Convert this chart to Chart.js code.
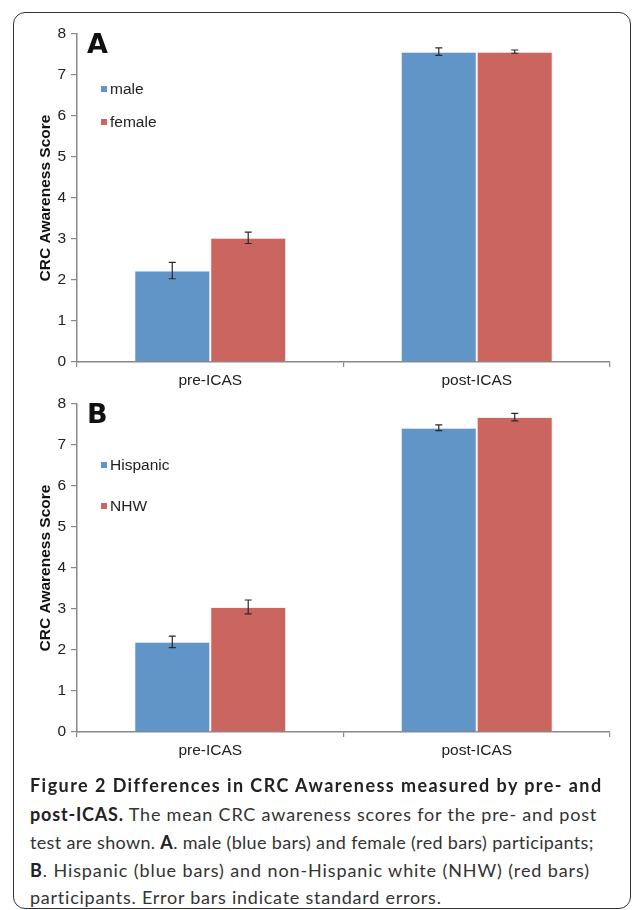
<!DOCTYPE html>
<html>
<head>
<meta charset="utf-8">
<script src="https://cdn.jsdelivr.net/npm/chart.js@4.4.1/dist/chart.umd.min.js"></script>
<style>
  html, body { margin:0; padding:0; background:#fff; width:633px; height:910px; overflow:hidden; }
  #frame { position:absolute; left:13px; top:12px; width:618px; height:897px; border:1.5px solid #333; border-radius:12px; box-sizing:border-box; }
  .cv { position:absolute; left:0; width:633px; height:392px; }
  #wrapA { top:0; }
  #wrapB { top:370px; }
  #caption { position:absolute; left:30px; top:770px; font-family:Lato, "Open Sans", sans-serif; font-size:18px; color:#333; }
  #caption .ln { position:absolute; left:0; white-space:nowrap; line-height:20px; }
  #caption b { color:#222; }
</style>
</head>
<body>
<div id="frame"></div>
<div class="cv" id="wrapA"><canvas id="chartA" width="633" height="392"></canvas></div>
<div class="cv" id="wrapB"><canvas id="chartB" width="633" height="392"></canvas></div>
<div id="caption">
  <div class="ln" data-w="572" style="top:5px"><b>Figure 2 Differences in CRC Awareness measured by pre- and</b></div>
  <div class="ln" data-w="567" style="top:34px"><b>post-ICAS.</b> The mean CRC awareness scores for the pre- and post</div>
  <div class="ln" data-w="564" style="top:62px">test are shown. <b>A</b>. male (blue bars) and female (red bars) participants;</div>
  <div class="ln" data-w="560" style="top:90px"><b>B</b>. Hispanic (blue bars) and non-Hispanic white (NHW) (red bars)</div>
  <div class="ln" data-w="412" style="top:117px">participants. Error bars indicate standard errors.</div>
</div>
<script>
// ---- data ----
const categories = ['pre-ICAS', 'post-ICAS'];
const maleScores = [2.23, 7.57];
const maleErrors = [0.20, 0.09];
const femaleScores = [3.03, 7.57];
const femaleErrors = [0.14, 0.04];
const hispanicScores = [2.20, 7.42];
const hispanicErrors = [0.14, 0.07];
const nhwScores = [3.05, 7.68];
const nhwErrors = [0.17, 0.09];
const yMin = 0, yMax = 8, yStep = 1;
const yTitle = 'CRC Awareness Score';

const BLUE = '#6195C8';
const RED = '#CB6560';
const FONT = '"Liberation Sans", Arial, sans-serif';

const errorBarPlugin = {
  id: 'errorBars',
  afterDatasetsDraw(chart, args, opts) {
    const ctx = chart.ctx, ys = chart.scales.y;
    ctx.save();
    ctx.strokeStyle = '#2a2a2a';
    ctx.lineWidth = 1.2;
    chart.data.datasets.forEach((ds, i) => {
      const meta = chart.getDatasetMeta(i);
      meta.data.forEach((bar, j) => {
        const v = ds.data[j], e = ds.errors[j];
        const x = bar.x;
        const y1 = ys.getPixelForValue(v + e), y2 = ys.getPixelForValue(v - e);
        ctx.beginPath();
        ctx.moveTo(x, y1); ctx.lineTo(x, y2);
        ctx.moveTo(x - 3.5, y1); ctx.lineTo(x + 3.5, y1);
        ctx.moveTo(x - 3.5, y2); ctx.lineTo(x + 3.5, y2);
        ctx.stroke();
      });
    });
    ctx.restore();
  }
};

const annotPlugin = {
  id: 'annot',
  afterDraw(chart, args, opts) {
    const ctx = chart.ctx, ca = chart.chartArea;
    ctx.save();
    ctx.fillStyle = '#111';
    ctx.font = 'bold 27px "DejaVu Sans", ' + FONT;
    ctx.textBaseline = 'alphabetic';
    ctx.textAlign = 'left';
    ctx.fillText(opts.letter, ca.left + 10, ca.top + 19);
    ctx.font = '15.5px ' + FONT;
    ctx.textBaseline = 'middle';
    chart.data.datasets.forEach((ds, i) => {
      const y = ca.top + opts.legendY[i];
      ctx.fillStyle = ds.backgroundColor;
      ctx.fillRect(ca.left + 24, y - 4, 6, 6);
      ctx.fillStyle = '#222';
      ctx.fillText(ds.label, ca.left + 33, y);
    });
    ctx.restore();
  }
};

function makeChart(id, labels, s1, e1, s2, e2, letter, legendY) {
  return new Chart(document.getElementById(id), {
    type: 'bar',
    data: {
      labels: categories,
      datasets: [
        { label: labels[0], data: s1, errors: e1, backgroundColor: BLUE, borderColor: 'rgba(235,240,250,0.9)', borderWidth: 1, borderSkipped: 'bottom' },
        { label: labels[1], data: s2, errors: e2, backgroundColor: RED, borderColor: 'rgba(250,235,235,0.9)', borderWidth: 1, borderSkipped: 'bottom' }
      ]
    },
    options: {
      responsive: false,
      animation: false,
      devicePixelRatio: 1,
      layout: { padding: { left: 36, right: 23, top: 34, bottom: 0 } },
      datasets: { bar: { categoryPercentage: 0.57, barPercentage: 1.0 } },
      plugins: {
        legend: { display: false },
        tooltip: { enabled: false },
        annot: { letter: letter, legendY: legendY }
      },
      scales: {
        x: {
          offset: true,
          grid: { display: true, offset: true, drawOnChartArea: false, drawTicks: true, tickLength: 5, color: '#888', lineWidth: 1.2 },
          border: { display: true, color: '#888', width: 1.5 },
          ticks: { color: '#222', font: { family: FONT, size: 15.5 }, padding: 4 },
          afterFit(s) { s.height = 30; }
        },
        y: {
          min: yMin, max: yMax,
          grid: { display: true, drawOnChartArea: false, drawTicks: true, tickLength: 6, color: '#888', lineWidth: 1.2 },
          border: { display: true, color: '#888', width: 1.5 },
          ticks: { stepSize: yStep, color: '#222', font: { family: FONT, size: 15.5 }, padding: 5 },
          title: { display: true, text: yTitle, color: '#111', font: { family: FONT, size: 15.5, weight: 'bold' }, padding: { top: 0, bottom: 4 } },
          afterFit(s) { s.width = 41; }
        }
      }
    },
    plugins: [errorBarPlugin, annotPlugin]
  });
}

makeChart('chartA', ['male', 'female'], maleScores, maleErrors, femaleScores, femaleErrors, 'A', [56, 89]);
makeChart('chartB', ['Hispanic', 'NHW'], hispanicScores, hispanicErrors, nhwScores, nhwErrors, 'B', [62, 103]);

// fit caption lines to their widths
document.querySelectorAll('#caption .ln').forEach(el => {
  const target = +el.dataset.w;
  const w = el.getBoundingClientRect().width;
  const n = el.textContent.length;
  el.style.letterSpacing = ((target - w) / n).toFixed(3) + 'px';
});
</script>
</body>
</html>
